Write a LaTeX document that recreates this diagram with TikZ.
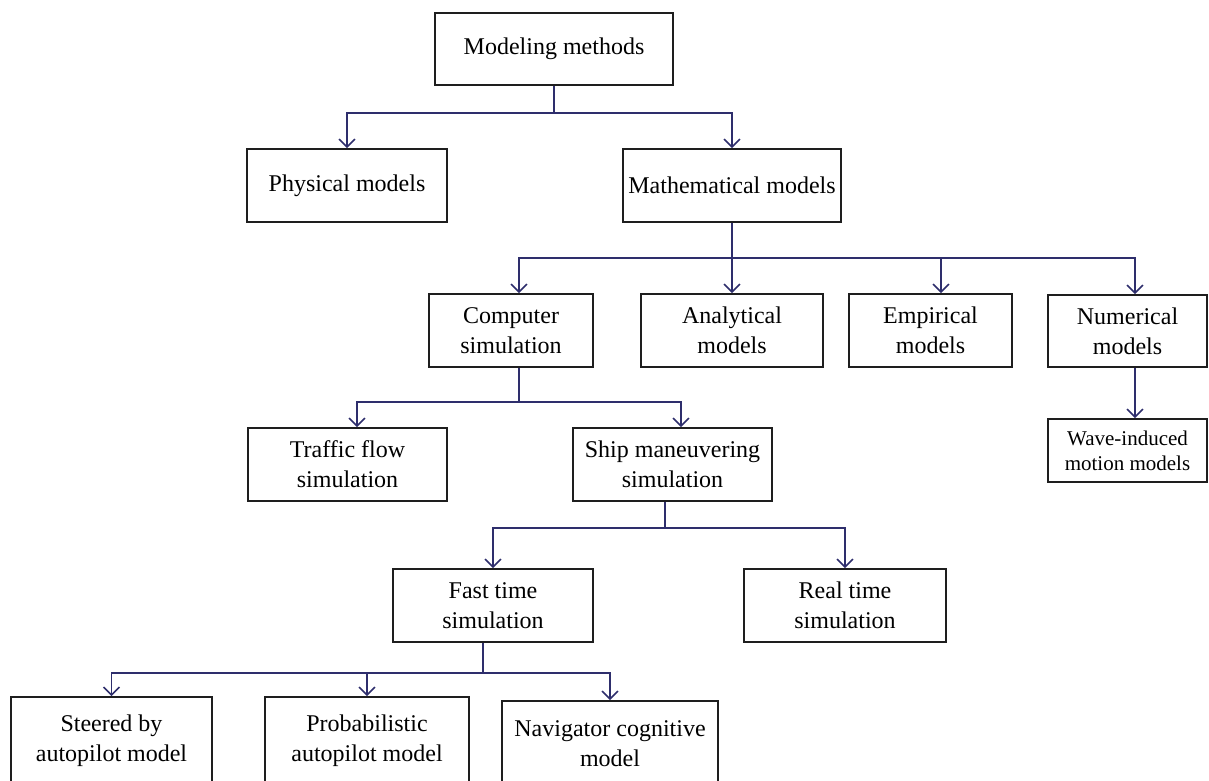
\documentclass[tikz,border=0pt]{standalone}
\usepackage{fontspec}
\setmainfont{Liberation Serif}
\usetikzlibrary{arrows.meta}
\definecolor{linknavy}{RGB}{46,46,108}
\definecolor{boxline}{RGB}{30,30,30}

\begin{document}
\begin{tikzpicture}[x=1pt,y=-1pt,
  box/.style={draw=boxline, line width=1.6pt, inner sep=0pt, align=center, font=\fontsize{24}{30}\selectfont},
  conn/.style={draw=linknavy, line width=1.6pt},
  tip/.style={conn, -{Straight Barb[length=8pt,width=16pt]}}]
%----------------------------------------------------------
	% Frame
	%------------------------------------------------------
	\clip (0,0) rectangle (1209,781);
	\fill[white] (0,0) rectangle (1209,781);

	% Boxes
	%------------------------------------------------------
	\node[box, minimum width=238, minimum height=72] (meth) at (554,49) {Modeling methods};

	\node[box, minimum width=200, minimum height=73] (phys) at (347,185.5) {Physical models};
	\node[box, minimum width=218, minimum height=73] (math) at (732,185.5) {Mathematical models};

	\node[box, minimum width=164, minimum height=73] (comp) at (511,330.5) {Computer\\simulation};
	\node[box, minimum width=182, minimum height=73] (anal) at (732,330.5) {Analytical\\models};
	\node[box, minimum width=163, minimum height=73] (emp) at (930.5,330.5) {Empirical\\models};
	\node[box, minimum width=159, minimum height=72] (num) at (1127.5,331) {Numerical\\models};
	\node[box, minimum width=159, minimum height=63, font=\fontsize{21}{25}\selectfont] (wave) at (1127.5,450.5) {Wave-induced\\motion models};

	\node[box, minimum width=199, minimum height=73] (traf) at (347.5,464.5) {Traffic flow\\simulation};
	\node[box, minimum width=199, minimum height=73] (ship) at (672.5,464.5) {Ship maneuvering\\simulation};

	\node[box, minimum width=200, minimum height=73] (fast) at (493,605.5) {Fast time\\simulation};
	\node[box, minimum width=202, minimum height=73] (real) at (845,605.5) {Real time\\simulation};

	\node[box, minimum width=201, minimum height=88] (steer) at (111.5,741) {Steered by\\autopilot model};
	\node[box, minimum width=204, minimum height=88] (prob) at (367,741) {Probabilistic\\autopilot model};
	\node[box, minimum width=216, minimum height=86] (nav) at (610,744) {Navigator cognitive\\model};

	% Split points
	%------------------------------------------------------
	\coordinate (s1) at (554,113);
	\coordinate (s2) at (732,258);
	\coordinate (s3) at (519,402);
	\coordinate (s4) at (665,528);
	\coordinate (s5) at (483,673);

	% Connectors
	%------------------------------------------------------
	\draw[conn] (meth.south) -- (s1);
	\draw[tip] (s1) -| (phys.north);
	\draw[tip] (s1) -| (math.north);

	\draw[conn] (math.south) -- (s2);
	\draw[tip] (s2) -| ([xshift=8]comp.north);
	\draw[tip] (s2) -- (anal.north);
	\draw[tip] (s2) -| ([xshift=10.5]emp.north);
	\draw[tip] (s2) -| ([xshift=7.5]num.north);
	\draw[tip] ([xshift=7.5]num.south) -- ([xshift=7.5]wave.north);

	\draw[conn] ([xshift=8]comp.south) -- (s3);
	\draw[tip] (s3) -| ([xshift=9.5]traf.north);
	\draw[tip] (s3) -| ([xshift=8.5]ship.north);

	\draw[conn] ([xshift=-7.5]ship.south) -- (s4);
	\draw[tip] (s4) -| (fast.north);
	\draw[tip] (s4) -| (real.north);

	\draw[conn] ([xshift=-10]fast.south) -- (s5);
	\draw[tip] (s5) -| (steer.north);
	\draw[tip] (s5) -| (prob.north);
	\draw[tip] (s5) -| (nav.north);
\end{tikzpicture}
\end{document}
